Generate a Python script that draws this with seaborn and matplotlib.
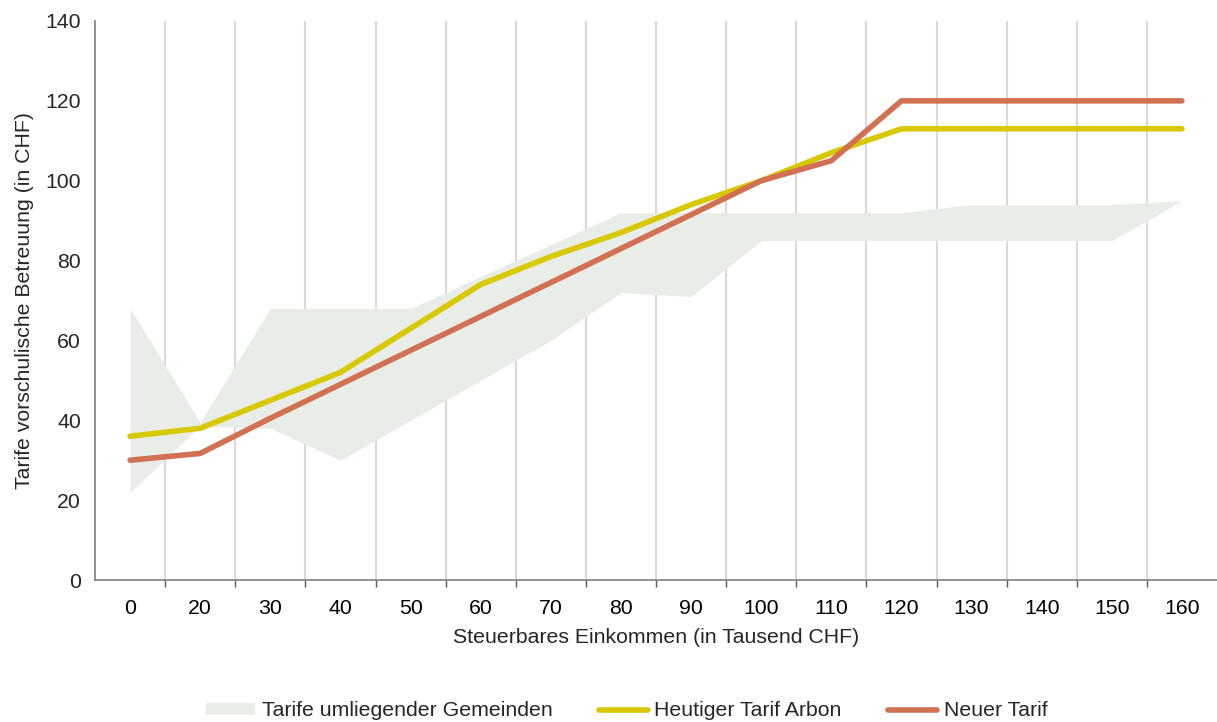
import numpy as np
import seaborn as sns
import matplotlib.pyplot as plt
from matplotlib.patches import Patch
from matplotlib.lines import Line2D
from matplotlib.ticker import FixedLocator

# Data
categories = ["0", "20", "30", "40", "50", "60", "70", "80", "90", "100",
              "110", "120", "130", "140", "150", "160"]
band_upper = [68, 39.5, 68, 68, 68, 76, 84, 92, 92, 92, 92, 92, 94, 94, 94, 95]
band_lower = [22, 38.5, 38, 30, 40, 50, 60, 72, 71, 85, 85, 85, 85, 85, 85, 95]
tarif_heute = [36, 38, 45, 52, 63, 74, 81, 87, 94, 100, 107, 113, 113, 113, 113, 113]
tarif_neu = [30, 31.7, 40.5, 49, 57.5, 66, 74.5, 83, 91.5, 100, 105, 120, 120, 120, 120, 120]

BAND_COLOR = "#e8ede8"
YELLOW = "#d8c800"
RED = "#d27052"
FS = 15.3

sns.set_style("white")
plt.rcParams["font.family"] = ["Liberation Sans", "DejaVu Sans"]

fig = plt.figure(figsize=(12.17, 7.22), dpi=100)
ax = fig.add_axes([95 / 1217, 1 - 580 / 722, 1 - 95 / 1217, (580 - 21) / 722])

x = np.arange(len(categories))
ax.fill_between(x, band_lower, band_upper, color=BAND_COLOR, linewidth=0, zorder=1)
sns.lineplot(x=x, y=tarif_heute, ax=ax, color=YELLOW, linewidth=4,
             solid_capstyle="round", zorder=3)
sns.lineplot(x=x, y=tarif_neu, ax=ax, color=RED, linewidth=4,
             solid_capstyle="round", zorder=4)

ax.set_xlim(-0.5, len(categories) - 0.5)
ax.set_ylim(0, 140)
ax.set_yticks(range(0, 141, 20))

# category labels in the middle, tick marks and grid on the boundaries
ax.set_xticks(x)
ax.set_xticklabels(categories)
ax.xaxis.set_minor_locator(FixedLocator(np.arange(0.5, len(categories) - 0.5, 1)))
ax.tick_params(axis="x", which="major", length=0, pad=14, labelsize=FS, colors="#000000")
ax.tick_params(axis="x", which="minor", length=5, width=1, color="#595959", direction="out")
ax.tick_params(axis="y", length=5, width=1, color="#595959", labelsize=FS, pad=5)
ax.tick_params(axis="x", which="both", bottom=True)
ax.grid(False)
ax.xaxis.grid(True, which="minor", color="#d9d9d9", linewidth=1.5, zorder=0)
ax.set_axisbelow(True)

for side in ["top", "right"]:
    ax.spines[side].set_visible(False)
for side in ["left", "bottom"]:
    ax.spines[side].set_color("#7f7f7f")
    ax.spines[side].set_linewidth(1.2)

ax.set_xlabel("Steuerbares Einkommen (in Tausend CHF)", fontsize=FS, labelpad=7)
ax.set_ylabel("Tarife vorschulische Betreuung (in CHF)", fontsize=FS, labelpad=8)

handles = [
    Patch(facecolor=BAND_COLOR, edgecolor="none"),
    Line2D([0], [0], color=YELLOW, linewidth=4, solid_capstyle="round"),
    Line2D([0], [0], color=RED, linewidth=4, solid_capstyle="round"),
]
labels = ["Tarife umliegender Gemeinden", "Heutiger Tarif Arbon", "Neuer Tarif"]
fig.legend(handles, labels, loc="center", bbox_to_anchor=(0.515, 11 / 722), ncol=3,
           frameon=False, fontsize=FS, handlelength=2.3, handleheight=0.5,
           handletextpad=0.3, columnspacing=2.2)

fig.savefig("out.png", dpi=100)
